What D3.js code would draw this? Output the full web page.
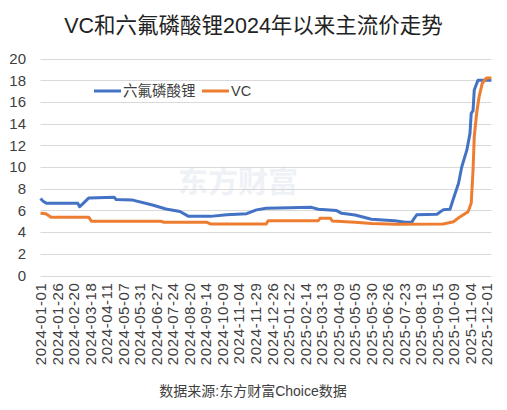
<!DOCTYPE html>
<html><head><meta charset="utf-8">
<script src="https://cdn.jsdelivr.net/npm/d3@7"></script>
<style>
html,body{margin:0;padding:0;background:#fff;}
svg{display:block;font-family:"Liberation Sans","Noto Sans CJK SC",sans-serif;}
</style></head>
<body>
<svg id="chart" width="507" height="410"></svg>
<script>
const title = "VC和六氟磷酸锂2024年以来主流价走势";
const source = "数据来源:东方财富Choice数据";
const seriesNames = ["六氟磷酸锂", "VC"];
const xTickLabels = ["2024-01-01","2024-01-26","2024-02-20","2024-03-18","2024-04-11","2024-05-07","2024-05-31","2024-06-27","2024-07-24","2024-08-20","2024-09-14","2024-10-09","2024-11-04","2024-11-29","2024-12-26","2025-01-22","2025-02-14","2025-03-13","2025-04-09","2025-05-05","2025-05-30","2025-06-26","2025-07-23","2025-08-19","2025-09-15","2025-10-09","2025-11-04","2025-12-01"];
const yTicks = [0,2,4,6,8,10,12,14,16,18,20];
const lastDate = "2025-12-09";

// 六氟磷酸锂 (万元/吨)
const lipf6 = [
 ["2024-01-01",7.1],["2024-01-05",6.85],["2024-01-10",6.65],["2024-02-27",6.65],["2024-03-01",6.34],
 ["2024-03-06",6.6],["2024-03-16",7.15],["2024-04-23",7.22],["2024-04-26",7.0],["2024-05-21",6.95],
 ["2024-06-21",6.5],["2024-07-13",6.13],["2024-08-05",5.9],["2024-08-19",5.45],["2024-09-21",5.45],
 ["2024-10-16",5.6],["2024-11-16",5.7],["2024-12-01",6.05],["2024-12-17",6.2],["2025-01-24",6.25],
 ["2025-02-25",6.28],["2025-03-08",6.1],["2025-04-07",5.98],["2025-04-15",5.73],["2025-05-06",5.58],
 ["2025-05-31",5.18],["2025-07-08",5.05],["2025-07-25",4.9],["2025-08-05",4.9],["2025-08-08",5.2],
 ["2025-08-13",5.6],["2025-09-15",5.65],["2025-09-24",6.05],["2025-10-04",6.1],["2025-10-09",7.1],
 ["2025-10-17",8.5],["2025-10-22",10.0],["2025-10-30",11.55],["2025-11-04",13.1],["2025-11-06",14.95],
 ["2025-11-09",15.2],["2025-11-11",17.1],["2025-11-17",18.0],["2025-12-09",18.0]
];
// VC (万元/吨)
const vc = [
 ["2024-01-01",5.73],["2024-01-09",5.7],["2024-01-17",5.36],["2024-03-16",5.36],["2024-03-20",5.0],
 ["2024-07-05",5.0],["2024-07-10",4.9],["2024-09-16",4.9],["2024-09-21",4.75],["2024-12-17",4.75],
 ["2024-12-20",5.05],["2025-03-08",5.05],["2025-03-11",5.27],["2025-03-28",5.27],["2025-03-31",5.02],
 ["2025-05-06",4.9],["2025-05-31",4.8],["2025-07-10",4.72],["2025-09-24",4.75],["2025-10-09",4.96],
 ["2025-10-19",5.4],["2025-11-01",5.88],["2025-11-06",6.65],["2025-11-09",9.7],["2025-11-11",12.8],
 ["2025-11-15",15.0],["2025-11-19",16.5],["2025-11-24",17.7],["2025-12-01",18.2],["2025-12-09",18.2]
];

const colors = ["#4472C4", "#ED7D31"];
const parse = d3.timeParse("%Y-%m-%d");
const svg = d3.select("#chart");

const plotLeft = 40.5, lastTick = 486.5, plotTop = 58.5, plotBottom = 275.5;
const tickDates = xTickLabels.map(parse);
const x = d3.scaleTime()
  .domain(tickDates)
  .range(tickDates.map((d, i) => plotLeft + i * (lastTick - plotLeft) / (tickDates.length - 1)));
const plotRight = x(parse(lastDate));
const y = d3.scaleLinear().domain([0, 20]).range([plotBottom, plotTop]);

// title
svg.append("text").attr("x", 253.5).attr("y", 33).attr("text-anchor", "middle")
  .attr("font-size", 21.5).attr("fill", "#222").text(title);

// watermark
svg.append("text").attr("x", 238).attr("y", 192).attr("text-anchor", "middle")
  .attr("font-size", 30).attr("font-weight", "bold").attr("fill", "#eef2f6")
  .text("东方财富");

// gridlines
svg.append("g").selectAll("line").data(yTicks).join("line")
  .attr("x1", plotLeft).attr("x2", plotRight)
  .attr("y1", d => Math.round(y(d)) + 0.5).attr("y2", d => Math.round(y(d)) + 0.5)
  .attr("stroke", "#d9d9d9").attr("stroke-width", 1);

// y axis labels
const yAxis = d3.axisLeft(y).tickValues(yTicks).tickSize(0).tickPadding(0);
const yg = svg.append("g").attr("transform", `translate(26,0)`).call(yAxis);
yg.select(".domain").remove();
yg.selectAll("text").attr("font-size", 15).attr("fill", "#404040")
  .attr("font-family", "Liberation Sans, sans-serif");

// x axis labels
const xAxis = d3.axisBottom(x).tickValues(tickDates).tickSize(0).tickPadding(0)
  .tickFormat(d3.timeFormat("%Y-%m-%d"));
const xg = svg.append("g").attr("transform", `translate(0,${plotBottom})`).call(xAxis);
xg.select(".domain").remove();
xg.selectAll("text")
  .attr("font-size", 15).attr("fill", "#404040")
  .attr("font-family", "Liberation Sans, sans-serif")
  .attr("letter-spacing", 0.6)
  .attr("text-anchor", "end")
  .attr("transform", "rotate(-90)")
  .attr("x", -7).attr("y", 0).attr("dy", "0.35em");

// lines
const line = d3.line().x(d => x(parse(d[0]))).y(d => y(d[1]));
[lipf6, vc].forEach((s, i) => {
  svg.append("path").datum(s).attr("d", line)
    .attr("fill", "none").attr("stroke", colors[i]).attr("stroke-width", 3)
    .attr("stroke-linejoin", "round");
});

// legend
const legendItems = [{x: 94, name: seriesNames[0], c: colors[0]}, {x: 202, name: seriesNames[1], c: colors[1]}];
const lg = svg.append("g");
legendItems.forEach(it => {
  lg.append("line").attr("x1", it.x).attr("x2", it.x + 27).attr("y1", 91).attr("y2", 91)
    .attr("stroke", it.c).attr("stroke-width", 3);
  lg.append("text").attr("x", it.x + 29).attr("y", 91).attr("dy", "0.35em")
    .attr("font-size", 14.5).attr("fill", "#404040").text(it.name);
});

// source
svg.append("text").attr("x", 253).attr("y", 396).attr("text-anchor", "middle")
  .attr("font-size", 14).attr("fill", "#404040").text(source);
</script>
</body></html>
